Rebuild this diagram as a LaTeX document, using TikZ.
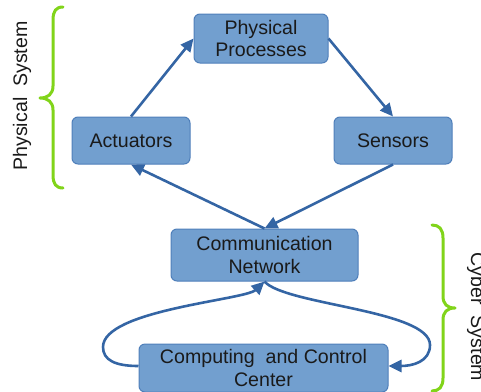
\documentclass[tikz,border=0pt]{standalone}
\usepackage{fontspec}
\setmainfont{Liberation Sans}
\usetikzlibrary{arrows.meta}
\definecolor{boxfill}{HTML}{729FCF}
\definecolor{boxline}{HTML}{4F7FBA}
\definecolor{flow}{HTML}{3465A4}
\definecolor{bracecol}{HTML}{81D41A}
\definecolor{ink}{HTML}{1A1A1A}
\tikzset{
  block/.style={draw=boxline, fill=boxfill, line width=1pt, rounded corners=6pt,
    inner sep=0pt, align=center, text=ink, font=\fontsize{19.6}{22.5}\selectfont},
  flowarrow/.style={draw=flow, line width=2.6pt, -{Triangle[length=13pt,width=12pt]}},
  groupbrace/.style={draw=bracecol, line width=3pt, line cap=round, line join=round},
  grouplabel/.style={text=ink, inner sep=0pt, anchor=base, font=\fontsize{19.6}{23}\selectfont}
}
\begin{document}
\begin{tikzpicture}[x=1pt,y=-1pt]
\clip (0,0) rectangle (481,391);

% blocks
\node[block, minimum width=134pt, minimum height=49pt] (pp) at (261,38.5) {Physical\\Processes};
\node[block, minimum width=118pt, minimum height=47pt] (act) at (131,140.5) {Actuators};
\node[block, minimum width=118pt, minimum height=47pt] (sen) at (393,140.5) {Sensors};
\node[block, minimum width=187pt, minimum height=52pt] (net) at (264.5,255) {Communication\\Network};
\node[block, minimum width=249pt, minimum height=48pt] (ccc) at (263.5,368) {Computing~~and Control\\Center};

% physical loop
\draw[flowarrow] (act.north) -- (pp.west);
\draw[flowarrow] (pp.east) -- (sen.north);
\draw[flowarrow] (sen.south) -- (net.north);
\draw[flowarrow] (net.north) -- (act.south);

% cyber loop
\draw[flowarrow] ([yshift=2pt]ccc.west) .. controls (115,366) and (103,360) .. (103,347)
  .. controls (103,310) and (245,300) .. (net.south);
\draw[flowarrow] (net.south) .. controls (285,305) and (430,310) .. (430,345)
  .. controls (430,362) and (412,366) .. ([yshift=2pt]ccc.east);

% group braces
\draw[groupbrace] (63,7) .. controls (56,7) and (53,11) .. (53,20) -- (53,86)
  .. controls (53,94) and (48,98) .. (40,98) .. controls (48,98) and (53,102) .. (53,110)
  -- (53,175) .. controls (53,184) and (56,188) .. (63,188);
\draw[groupbrace] (432,225) .. controls (439,225) and (443,229) .. (443,238) -- (443,296)
  .. controls (443,304) and (447,308) .. (455,308) .. controls (447,308) and (443,312) .. (443,320)
  -- (443,378) .. controls (443,387) and (439,391) .. (432,391);

% group labels
\node[grouplabel, rotate=90] (phys) at (27,96) {Physical~~System};
\node[grouplabel, rotate=-90] (cyber) at (471,317) {Cyber~~System};
\end{tikzpicture}
\end{document}
